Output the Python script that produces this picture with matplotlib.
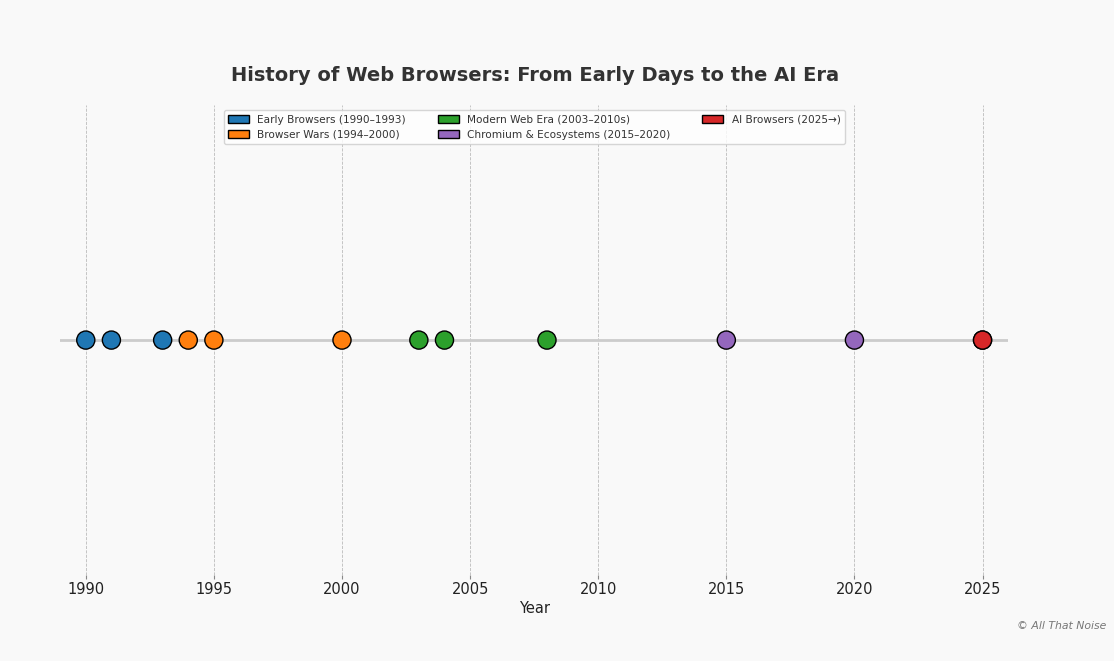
import numpy as np
import matplotlib.pyplot as plt
from matplotlib.patches import Patch

# Timeline data
years = [1990, 1991, 1993, 1994, 1995, 2000, 2003, 2004, 2008, 2015, 2020, 2025, 2025]
eras = [0, 0, 0, 1, 1, 1, 2, 2, 2, 3, 3, 4, 4]

era_labels = ['Early Browsers (1990–1993)', 'Browser Wars (1994–2000)',
              'Modern Web Era (2003–2010s)', 'Chromium & Ecosystems (2015–2020)',
              'AI Browsers (2025→)']
era_colors = ['#1f77b4', '#ff7f0e', '#2ca02c', '#9467bd', '#d62728']

BG = '#f9f9f9'

fig = plt.figure(figsize=(11.14, 6.61), dpi=100, facecolor=BG)
ax = fig.add_axes([0.054, 0.130, 0.851, 0.711], facecolor=BG)

ax.axhline(0, color='#cccccc', lw=2, zorder=1)
cols = [era_colors[e] for e in eras]
ax.scatter(years, np.zeros(len(years)), s=170, c=cols, edgecolors='black',
           linewidths=1, zorder=3)

ax.set_xlim(1989, 2026)
ax.set_ylim(-1, 1)
ax.set_yticks([])
ax.set_xticks(range(1990, 2026, 5))
ax.tick_params(axis='x', colors='#888888', labelcolor='#222222', labelsize=10.5,
               length=3, pad=2)
for s in ax.spines.values():
    s.set_visible(False)
ax.grid(axis='x', linestyle='--', color='#bbbbbb', lw=0.6)
ax.set_axisbelow(True)
ax.set_xlabel('Year', fontsize=10.5, color='#222222', labelpad=3)

fig.suptitle('History of Web Browsers: From Early Days to the AI Era',
             x=0.48, y=0.9, fontsize=14, fontweight='bold', color='#333333')

handles = [Patch(facecolor=c, edgecolor='black', label=l) for c, l in zip(era_colors, era_labels)]
leg = ax.legend(handles=handles, loc='upper center', bbox_to_anchor=(0.5, 1.0), ncol=3,
                fontsize=7.6, frameon=True, columnspacing=3.0, labelcolor='#333333')
leg.get_frame().set_facecolor('white')
leg.get_frame().set_edgecolor('#cccccc')

fig.text(0.993, 0.053, '© All That Noise', ha='right', va='center', fontsize=7.8,
         style='italic', color='#777777')

fig.savefig('out.png', dpi=100, facecolor=BG)
